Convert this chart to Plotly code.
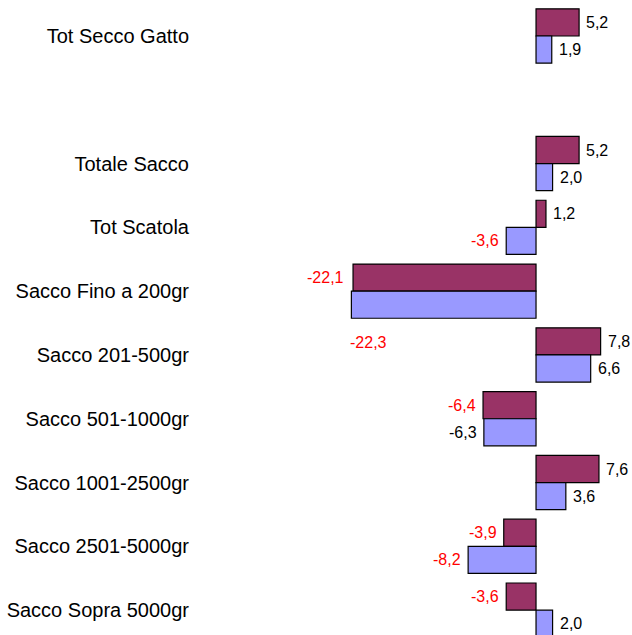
import plotly.graph_objects as go

# ---- data ----
categories = ["Tot Secco Gatto", " ", "Totale Sacco", "Tot Scatola", "Sacco Fino a 200gr",
              "Sacco 201-500gr", "Sacco 501-1000gr", "Sacco 1001-2500gr",
              "Sacco 2501-5000gr", "Sacco Sopra 5000gr"]
series_a = [5.2, None, 5.2, 1.2, -22.1, 7.8, -6.4, 7.6, -3.9, -3.6]
series_b = [1.9, None, 2.0, -3.6, -22.3, 6.6, -6.3, 3.6, -8.2, 2.0]

# ---- styles ----
color_a = "#993366"
color_b = "#9999FF"
FONT = "Liberation Sans, Arial, sans-serif"
# label colour overrides (index -> colour) for series b
label_color_override_b = {6: "black"}
# special label placements (series, index) -> (xanchor, xshift, yshift)
special_pos = {("a", 4): ("right", -7, 13.5), ("b", 4): ("left", -3, -51)}


def fmt(v):
    return f"{v:.1f}".replace(".", ",")


fig = go.Figure()
fig.add_trace(go.Bar(y=categories, x=series_a, orientation="h", name="A",
                     marker=dict(color=color_a, line=dict(color="black", width=1.2))))
fig.add_trace(go.Bar(y=categories, x=series_b, orientation="h", name="B",
                     marker=dict(color=color_b, line=dict(color="black", width=1.2))))

annotations = []
for key, vals, ys in (("a", series_a, 13.5), ("b", series_b, -13.5)):
    for i, (c, v) in enumerate(zip(categories, vals)):
        if v is None:
            continue
        col = "red" if v < 0 else "black"
        if key == "b" and i in label_color_override_b:
            col = label_color_override_b[i]
        if (key, i) in special_pos:
            xa, xs, yshift = special_pos[(key, i)]
        else:
            xa = "left" if v >= 0 else "right"
            xs = 5 if v >= 0 else -5
            yshift = ys
        annotations.append(dict(x=v, y=c, xref="x", yref="y", text=fmt(v), showarrow=False,
                                xanchor=xa, yanchor="middle", xshift=xs, yshift=yshift,
                                font=dict(family=FONT, size=16, color=col)))

fig.update_layout(
    width=632, height=635,
    margin=dict(l=190, r=0, t=0, b=0),
    paper_bgcolor="white", plot_bgcolor="white",
    barmode="group", bargap=0.15, bargroupgap=0,
    showlegend=False,
    hovermode=False,
    annotations=annotations,
    xaxis=dict(range=[-41.79, 11.59], visible=False, showgrid=False, zeroline=False),
    yaxis=dict(categoryorder="array", categoryarray=categories, range=[9.39, -0.564],
               showgrid=False, zeroline=False, showline=False, ticks="",
               tickfont=dict(family=FONT, size=20, color="black")),
)

fig.write_html("out.html", config={"displayModeBar": False},
               post_script="document.body.style.margin='0';document.body.style.overflow='hidden';")
